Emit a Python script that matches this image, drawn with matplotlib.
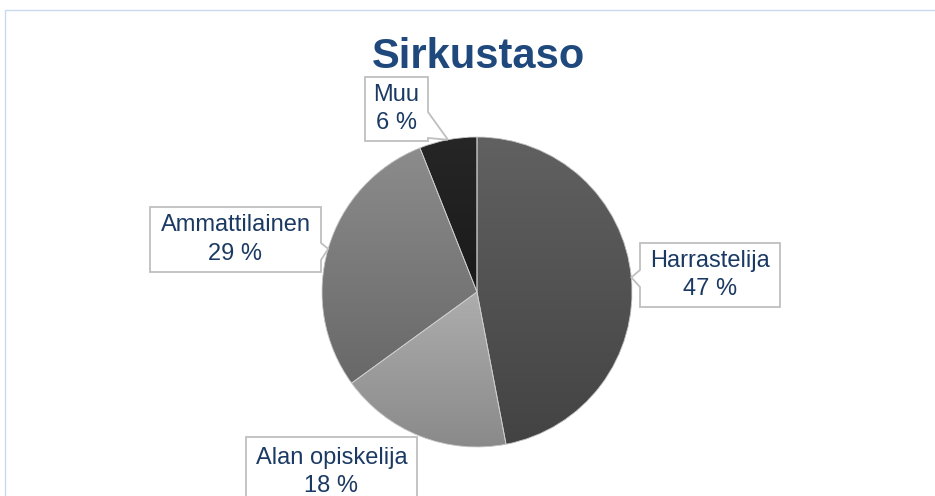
import matplotlib
matplotlib.use("Agg")
import matplotlib.pyplot as plt
import numpy as np
from matplotlib.patches import Polygon, Rectangle, Wedge
from matplotlib.colors import to_rgb

# data
labels = ['Harrastelija', 'Alan opiskelija', 'Ammattilainen', 'Muu']
shares = [47, 18, 29, 6]
title = 'Sirkustaso'

# grey gradient per slice (top, bottom)
top_colors = ['#616161', '#adadad', '#8c8c8c', '#262626']
bottom_colors = ['#434343', '#8a8a8a', '#686868', '#1a1a1a']

W, H = 935, 496
plt.rcParams['font.family'] = ['Liberation Sans', 'DejaVu Sans']

fig = plt.figure(figsize=(W / 100, H / 100), dpi=100)
ax = fig.add_axes([0, 0, 1, 1])


def px(x, y):
    # pixel position (top-left origin) -> data coords
    return (x, H - y)


# light blue outer frame
ax.add_patch(Rectangle(px(5, 510), 945, 500, fill=False, edgecolor='#c9daf0', lw=1.0))

cx, cy, r = 477, 292, 155
wedges, _ = ax.pie(shares, startangle=90, counterclock=False, center=px(cx, cy),
                   radius=r, colors=bottom_colors, wedgeprops=dict(linewidth=0))

# vertical gradient inside each slice
for w, c0, c1 in zip(wedges, top_colors, bottom_colors):
    ext = w.get_path().get_extents()
    t = np.linspace(0, 1, 256)[:, None, None]
    a, b = np.array(to_rgb(c0)), np.array(to_rgb(c1))
    img = a[None, None, :] * (1 - t) + b[None, None, :] * t
    im = ax.imshow(img, extent=(ext.x0, ext.x1, ext.y0, ext.y1), origin='upper',
                   aspect='auto', zorder=2, interpolation='bilinear')
    im.set_clip_path(w)

# thin light seams between slices
for w in wedges:
    ax.add_patch(Wedge(w.center, w.r, w.theta1, w.theta2, facecolor='none',
                       edgecolor='#cfcfcf', lw=0.6, zorder=3))

# callout boxes: (x0, y0, x1, y1) in pixels, side of pointer, notch span
boxes = {
    'Harrastelija': ((640, 243, 780, 307), 'left', (270, 287)),
    'Alan opiskelija': ((246, 437, 417, 520), None, None),
    'Ammattilainen': ((150, 207, 321, 272), 'right', (243, 260)),
    'Muu': ((365, 77, 428, 141), 'right', (112, 138)),
}

text_color = '#1b3a63'
for w, lab, val in zip(wedges, labels, shares):
    (x0, y0, x1, y1), side, notch = boxes[lab]
    mid = np.deg2rad((w.theta1 + w.theta2) / 2)
    tip = (cx + r * np.cos(mid), cy - r * np.sin(mid))
    if side == 'right':
        pts = [(x0, y0), (x1, y0), (x1, notch[0]), tip, (x1, notch[1]), (x1, y1), (x0, y1)]
    elif side == 'left':
        pts = [(x0, y0), (x1, y0), (x1, y1), (x0, y1), (x0, notch[1]), tip, (x0, notch[0])]
    else:
        pts = [(x0, y0), (x1, y0), (x1, y1), (x0, y1)]
    ax.add_patch(Polygon([px(*p) for p in pts], closed=True, facecolor='white',
                         edgecolor='#bfbfbf', lw=1.3, zorder=4))
    ty = (y0 + y1) / 2 if lab != 'Alan opiskelija' else 472
    ax.text(*px((x0 + x1) / 2, ty), f'{lab}\n{val} %', ha='center', va='center',
            fontsize=17, color=text_color, linespacing=1.38, zorder=5)

ax.text(*px(478, 68), title, ha='center', va='baseline', fontsize=30,
        fontweight='bold', color='#1f497d')

ax.set_xlim(0, W)
ax.set_ylim(0, H)
ax.set_aspect('equal')
ax.axis('off')

fig.savefig('out.png', dpi=100)
